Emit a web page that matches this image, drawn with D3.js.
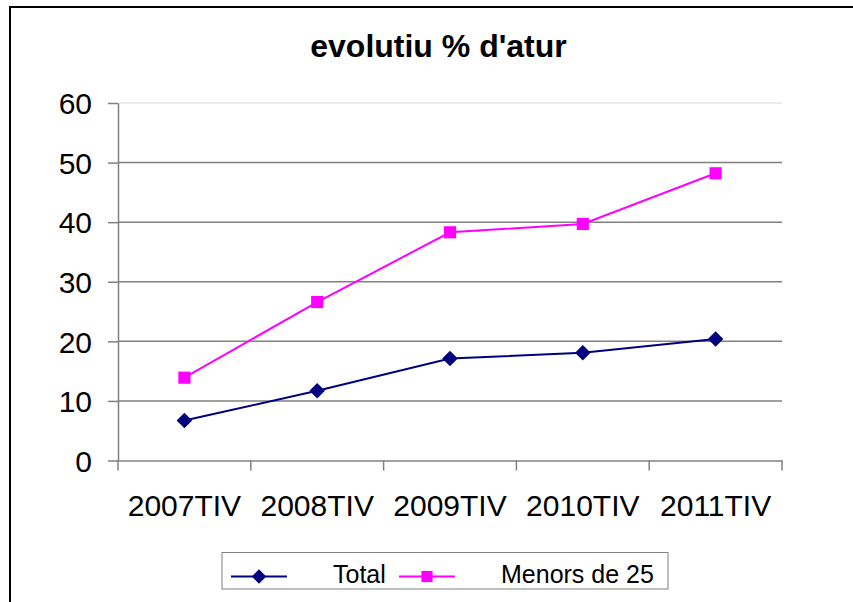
<!DOCTYPE html>
<html>
<head>
<meta charset="utf-8">
<script src="https://cdn.jsdelivr.net/npm/d3@7"></script>
<style>
body { margin: 0; background: #fff; }
text { font-family: "Liberation Sans", Arial, sans-serif; }
</style>
</head>
<body>
<script>
var width = 853;
var height = 602;

var categories = ["2007TIV", "2008TIV", "2009TIV", "2010TIV", "2011TIV"];
var total = [6.7, 11.7, 17.1, 18.1, 20.4];
var menors = [13.9, 26.6, 38.3, 39.7, 48.2];
var yTicks = [0, 10, 20, 30, 40, 50, 60];

// square rotated 45deg, like the office diamond marker
var diamond = {
    draw: function (ctx, size) {
        var r = Math.sqrt(size / 2);
        ctx.moveTo(0, -r);
        ctx.lineTo(r, 0);
        ctx.lineTo(0, r);
        ctx.lineTo(-r, 0);
        ctx.closePath();
    }
};

var series = [
    { name: "Total", values: total, color: "#000080", symbol: diamond, size: 120 },
    { name: "Menors de 25", values: menors, color: "#ff00ff", symbol: d3.symbolSquare, size: 148 }
];

var svg = d3.select("body").append("svg")
    .attr("width", width)
    .attr("height", height);

// chart frame (cut off at right and bottom like the original)
svg.append("rect")
    .attr("x", 10)
    .attr("y", 7)
    .attr("width", 900)
    .attr("height", 700)
    .style("fill", "none")
    .style("stroke", "#000")
    .style("stroke-width", 2);

svg.append("text")
    .attr("x", 438.5)
    .attr("y", 57)
    .attr("text-anchor", "middle")
    .style("font-size", "32px")
    .style("font-weight", "bold")
    .text("evolutiu % d'atur");

var plotLeft = 118, plotRight = 782, plotTop = 103, plotBottom = 460.5;

var x = d3.scaleBand()
    .domain(categories)
    .range([plotLeft, plotRight]);

var y = d3.scaleLinear()
    .domain([0, 60])
    .range([plotBottom, plotTop]);

// gridlines
svg.selectAll(".grid")
    .data(yTicks.filter(function (d) { return d > 0; }))
    .enter().append("line")
    .attr("class", "grid")
    .attr("x1", plotLeft)
    .attr("x2", plotRight)
    .attr("y1", function (d) { return y(d); })
    .attr("y2", function (d) { return y(d); })
    .style("stroke", function (d) { return d == 60 ? "#e4e4e4" : "#808080"; })
    .style("stroke-width", 1.5);

// y axis
var yAxis = svg.append("g")
    .attr("transform", "translate(" + plotLeft + ",0)")
    .call(d3.axisLeft(y).tickValues(yTicks).tickSize(10).tickPadding(16).tickSizeOuter(0));

// x axis, ticks between categories
var xAxis = svg.append("g")
    .attr("transform", "translate(0," + plotBottom + ")")
    .call(d3.axisBottom(x).tickSize(0).tickPadding(34));

var bounds = categories.map(function (c) { return x(c); }).concat([plotRight]);
xAxis.selectAll(".sep")
    .data(bounds)
    .enter().append("line")
    .attr("class", "sep")
    .attr("x1", function (d) { return d; })
    .attr("x2", function (d) { return d; })
    .attr("y1", 0)
    .attr("y2", 10);

[yAxis, xAxis].forEach(function (g) {
    g.select(".domain").style("stroke", "#808080").style("stroke-width", 1.5);
    g.selectAll("line").style("stroke", "#808080").style("stroke-width", 1.5);
    g.selectAll("text")
        .style("font-size", "30px")
        .style("fill", "#000")
        .style("font-family", "'Liberation Sans', Arial, sans-serif");
});
yAxis.selectAll("text").attr("dy", "0.36em");

var line = d3.line()
    .x(function (d, i) { return x(categories[i]) + x.bandwidth() / 2; })
    .y(function (d) { return y(d); });

series.forEach(function (s) {
    svg.append("path")
        .datum(s.values)
        .attr("d", line)
        .style("fill", "none")
        .style("stroke", s.color)
        .style("stroke-width", 2);

    svg.selectAll(null)
        .data(s.values)
        .enter().append("path")
        .attr("d", d3.symbol().type(s.symbol).size(s.size))
        .attr("transform", function (d, i) {
            return "translate(" + (x(categories[i]) + x.bandwidth() / 2) + "," + y(d) + ")";
        })
        .style("fill", s.color);
});

// legend
var legend = svg.append("g");
legend.append("rect")
    .attr("x", 222)
    .attr("y", 552.5)
    .attr("width", 446)
    .attr("height", 36.5)
    .style("fill", "#fff")
    .style("stroke", "#808080")
    .style("stroke-width", 1);

var legendItems = [
    { s: series[0], x0: 231, tx: 333 },
    { s: series[1], x0: 399, tx: 501 }
];
legendItems.forEach(function (it) {
    legend.append("line")
        .attr("x1", it.x0)
        .attr("x2", it.x0 + 56)
        .attr("y1", 576.5)
        .attr("y2", 576.5)
        .style("stroke", it.s.color)
        .style("stroke-width", 2);
    legend.append("path")
        .attr("d", d3.symbol().type(it.s.symbol).size(it.s.size * 0.85))
        .attr("transform", "translate(" + (it.x0 + 28) + ",576.5)")
        .style("fill", it.s.color);
    legend.append("text")
        .attr("x", it.tx)
        .attr("y", 582.5)
        .style("font-size", "25px")
        .text(it.s.name);
});
</script>
</body>
</html>
